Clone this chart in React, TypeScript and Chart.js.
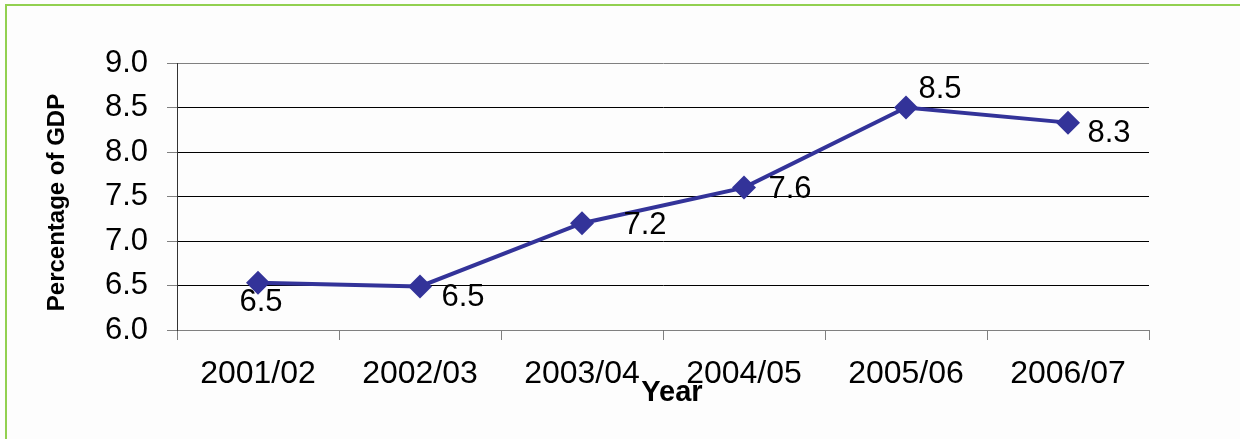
import React, { useEffect, useRef } from "react";
import { Chart, registerables } from "chart.js";

Chart.register(...registerables);

const categories = ["2001/02", "2002/03", "2003/04", "2004/05", "2005/06", "2006/07"];
const gdpShare = [6.53, 6.49, 7.2, 7.6, 8.5, 8.33];
const yTicks = [6.0, 6.5, 7.0, 7.5, 8.0, 8.5, 9.0];
const xTitle = "Year";
const yTitle = "Percentage of GDP";

const FONT = "'Liberation Sans', Arial, sans-serif";
const LINE = "#333399";

// label placement relative to each point (style only)
const labelOffsets = [
  [3, 20],
  [43, 11],
  [63, 2],
  [46, 2],
  [34, -18],
  [41, 11],
];

const overlayPlugin = {
  id: "overlay",
  afterDatasetsDraw(chart: any) {
    const ctx = chart.ctx;
    const meta = chart.getDatasetMeta(0);
    ctx.save();
    ctx.fillStyle = "#000";
    ctx.font = `31px ${FONT}`;
    ctx.textAlign = "center";
    ctx.textBaseline = "middle";
    meta.data.forEach((pt: any, i: number) => {
      const v = chart.data.datasets[0].data[i] as number;
      const [dx, dy] = labelOffsets[i];
      ctx.fillText(v.toFixed(1), pt.x + dx, pt.y + dy);
    });
    // axis titles
    const area = chart.chartArea;
    ctx.font = `bold 29px ${FONT}`;
    ctx.fillText(xTitle, (area.left + area.right) / 2 + 9, 393);
    ctx.translate(57, (area.top + area.bottom) / 2 + 6);
    ctx.rotate(-Math.PI / 2);
    ctx.font = `bold 24px ${FONT}`;
    ctx.fillText(yTitle, 0, 0);
    ctx.restore();
  },
};

export default function App() {
  const ref = useRef<HTMLCanvasElement | null>(null);

  useEffect(() => {
    if (!ref.current) return;
    const chart = new Chart(ref.current, {
      type: "line",
      data: {
        labels: categories,
        datasets: [
          {
            data: gdpShare,
            borderColor: LINE,
            backgroundColor: LINE,
            borderWidth: 4,
            pointStyle: "rectRot",
            pointRadius: 12,
            pointHoverRadius: 12,
            pointBackgroundColor: LINE,
            pointBorderColor: LINE,
            pointBorderWidth: 0,
            tension: 0,
          },
        ],
      },
      options: {
        animation: false,
        responsive: false,
        maintainAspectRatio: false,
        layout: { padding: { top: 63, right: 91, left: 0, bottom: 0 } },
        plugins: {
          legend: { display: false },
          tooltip: { enabled: false },
          title: { display: false },
        },
        scales: {
          x: {
            type: "category",
            offset: true,
            grid: {
              offset: true,
              drawOnChartArea: false,
              tickLength: 10,
              tickColor: "#808080",
              lineWidth: 1,
            },
            border: { display: true, color: "#808080", width: 1 },
            ticks: {
              color: "#000",
              font: { family: FONT, size: 32 },
              padding: 15,
              maxRotation: 0,
              autoSkip: false,
            },
            afterFit: (scale: any) => {
              scale.height = 109;
            },
          },
          y: {
            min: 6,
            max: 9,
            afterBuildTicks: (scale: any) => {
              scale.ticks = yTicks.map((v) => ({ value: v }));
            },
            grid: {
              color: (c: any) => (c.tick && c.tick.value === 9 ? "#808080" : "#000"),
              tickColor: "#808080",
              tickLength: 10,
              lineWidth: 1,
            },
            border: { display: true, color: "#333", width: 1 },
            ticks: {
              color: "#000",
              font: { family: FONT, size: 31 },
              padding: 19,
              callback: (v: any) => Number(v).toFixed(1),
            },
            afterFit: (scale: any) => {
              scale.width = 177;
            },
          },
        },
      },
      plugins: [overlayPlugin],
    });
    return () => chart.destroy();
  }, []);

  return (
    <div style={{ position: "absolute", left: 0, top: 0, width: 1240, height: 439, overflow: "hidden", background: "#fdfdfd" }}>
      <div
        style={{
          position: "absolute",
          left: 5,
          top: 4,
          width: 1300,
          height: 500,
          border: "2px solid #92D050",
          boxSizing: "border-box",
        }}
      />
      <canvas ref={ref} width={1240} height={439} style={{ position: "absolute", left: 0, top: 0, width: 1240, height: 439 }} />
    </div>
  );
}
